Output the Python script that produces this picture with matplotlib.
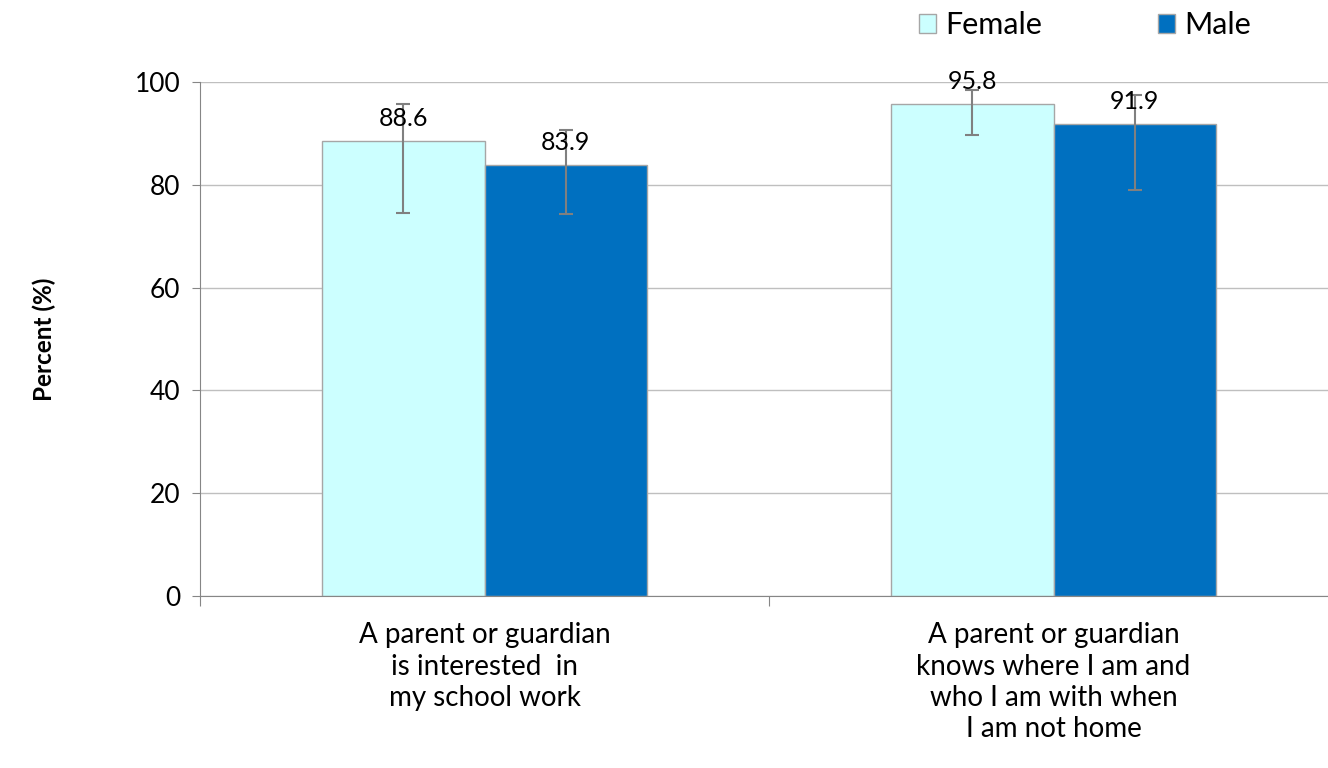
import numpy as np
import matplotlib.pyplot as plt

plt.rcParams['font.family'] = ['Lato', 'DejaVu Sans']

# data
categories = ["A parent or guardian\nis interested  in\nmy school work",
              "A parent or guardian\nknows where I am and\nwho I am with when\nI am not home"]
female = [88.6, 95.8]
male = [83.9, 91.9]
female_lo = [74.6, 89.8]
female_hi = [95.7, 98.4]
male_lo = [74.3, 79.0]
male_hi = [90.7, 97.5]

fig = plt.figure(figsize=(13.28, 7.68), dpi=100)
ax = fig.add_axes([0.1506, 0.224, 0.857, 0.669])

x = np.arange(len(categories))
w = 0.285
ecol = "#808080"

f_err = [np.array(female) - np.array(female_lo), np.array(female_hi) - np.array(female)]
m_err = [np.array(male) - np.array(male_lo), np.array(male_hi) - np.array(male)]

bf = ax.bar(x - w / 2, female, w, color="#CCFFFF", edgecolor="#A6A6A6", linewidth=1,
            label="Female", zorder=2,
            yerr=f_err, error_kw=dict(ecolor=ecol, capsize=5, elinewidth=1.5, capthick=1.5, zorder=3))
bm = ax.bar(x + w / 2, male, w, color="#0070C0", edgecolor="#A6A6A6", linewidth=1,
            label="Male", zorder=2,
            yerr=m_err, error_kw=dict(ecolor=ecol, capsize=5, elinewidth=1.5, capthick=1.5, zorder=3))

for xs, vals in [(x - w / 2, female), (x + w / 2, male)]:
    for xi, v in zip(xs, vals):
        ax.annotate(f"{v:.1f}", (xi, v), xytext=(0, 8), textcoords="offset points",
                    ha="center", va="bottom", fontsize=18, zorder=4)

ax.set_xlim(-0.5, 1.5)
ax.set_ylim(0, 100)
ax.set_yticks(range(0, 101, 20))
ax.tick_params(axis="y", labelsize=19, length=6, color="#868686", pad=8)
ax.yaxis.grid(True, color="#BFBFBF", linewidth=1)
ax.set_axisbelow(True)

ax.set_xticks([-0.5, 0.5, 1.5])
ax.set_xticklabels([])
ax.set_xticks(x, minor=True)
ax.set_xticklabels(categories, minor=True, fontsize=20, linespacing=1.25)
ax.tick_params(axis="x", which="major", length=7, color="#868686")
ax.tick_params(axis="x", which="minor", length=0, pad=19)

for s in ["top", "right"]:
    ax.spines[s].set_visible(False)
for s in ["left", "bottom"]:
    ax.spines[s].set_color("#868686")

fig.text(0.033, 0.558, "Percent (%)", rotation=90, fontsize=17.5, fontweight="bold",
         ha="center", va="center")

fig.legend(handles=[bf, bm], loc="center left", bbox_to_anchor=(0.692, 0.967), ncol=2,
           frameon=False, fontsize=22, handlelength=0.55, handleheight=0.55,
           handletextpad=0.3, columnspacing=3.8, borderaxespad=0, borderpad=0)

fig.savefig("out.png", dpi=100)
